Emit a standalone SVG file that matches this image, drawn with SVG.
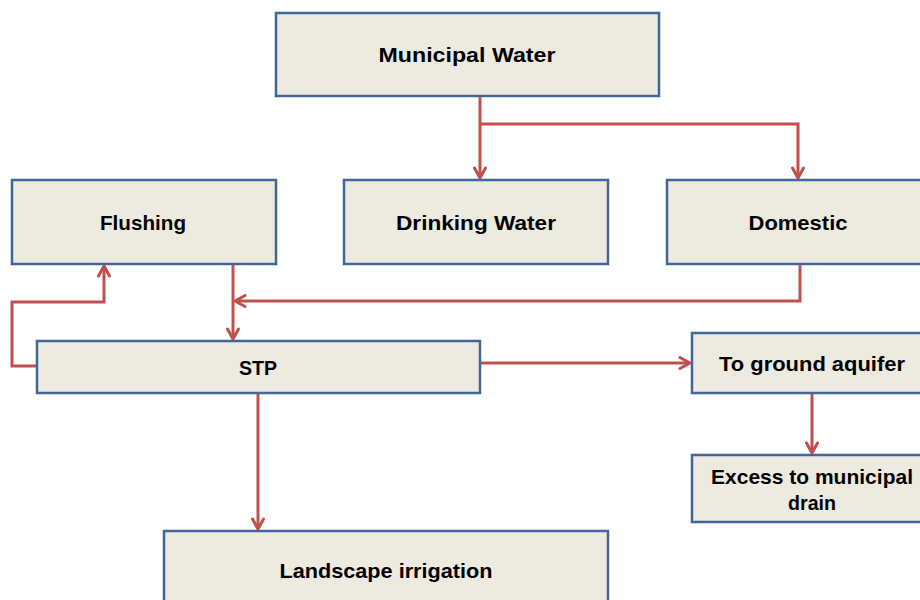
<svg xmlns="http://www.w3.org/2000/svg" width="920" height="600" viewBox="0 0 920 600">
<style>
.box{fill:#EDEAE0;stroke:#41679A;stroke-width:2.5}
.lbl{font-family:"Liberation Sans",Arial,sans-serif;font-weight:bold;font-size:21px;fill:#000;text-anchor:middle;lengthAdjust:spacingAndGlyphs}
.c{fill:none;stroke:#C0504D;stroke-width:3;stroke-linejoin:miter}
</style>
<defs>
<marker id="ah" viewBox="0 0 14 14" refX="12" refY="7" markerWidth="14" markerHeight="14" markerUnits="userSpaceOnUse" orient="auto">
<path d="M2,1.5 L12,7 L2,12.5" fill="none" stroke="#C0504D" stroke-width="3" stroke-linecap="round" stroke-linejoin="round"/>
</marker>
</defs>
<rect width="920" height="600" fill="#fff"/>
<g id="connectors">
<path class="c" d="M480,96 V178" marker-end="url(#ah)"/>
<path class="c" d="M480,124 H798 V178" marker-end="url(#ah)"/>
<path class="c" d="M800,264 V301 H235" marker-end="url(#ah)"/>
<path class="c" d="M233,264 V339" marker-end="url(#ah)"/>
<path class="c" d="M37,366 H12 V302 H104 V266" marker-end="url(#ah)"/>
<path class="c" d="M480,363 H690" marker-end="url(#ah)"/>
<path class="c" d="M812,393 V453" marker-end="url(#ah)"/>
<path class="c" d="M258,393 V529" marker-end="url(#ah)"/>
</g>
<g id="municipal"><rect class="box" x="276" y="13" width="383" height="83"/><text class="lbl" x="467" y="62" textLength="177" lengthAdjust="spacingAndGlyphs">Municipal Water</text></g>
<g id="flushing"><rect class="box" x="12" y="180" width="264" height="84"/><text class="lbl" x="143" y="230" textLength="86" lengthAdjust="spacingAndGlyphs">Flushing</text></g>
<g id="drinking"><rect class="box" x="344" y="180" width="264" height="84"/><text class="lbl" x="476" y="230" textLength="160" lengthAdjust="spacingAndGlyphs">Drinking Water</text></g>
<g id="domestic"><rect class="box" x="667" y="180" width="265" height="84"/><text class="lbl" x="798" y="230" textLength="99" lengthAdjust="spacingAndGlyphs">Domestic</text></g>
<g id="stp"><rect class="box" x="37" y="341" width="443" height="52"/><text class="lbl" x="258" y="375" textLength="38" lengthAdjust="spacingAndGlyphs">STP</text></g>
<g id="aquifer"><rect class="box" x="692" y="333" width="240" height="60"/><text class="lbl" x="812" y="371" textLength="186" lengthAdjust="spacingAndGlyphs">To ground aquifer</text></g>
<g id="excess"><rect class="box" x="692" y="455" width="240" height="67"/><text class="lbl" x="812" y="484" textLength="202" lengthAdjust="spacingAndGlyphs">Excess to municipal</text><text class="lbl" x="812" y="510" textLength="48" lengthAdjust="spacingAndGlyphs">drain</text></g>
<g id="landscape"><rect class="box" x="164" y="531" width="444" height="90"/><text class="lbl" x="386" y="578" textLength="213" lengthAdjust="spacingAndGlyphs">Landscape irrigation</text></g>
</svg>
